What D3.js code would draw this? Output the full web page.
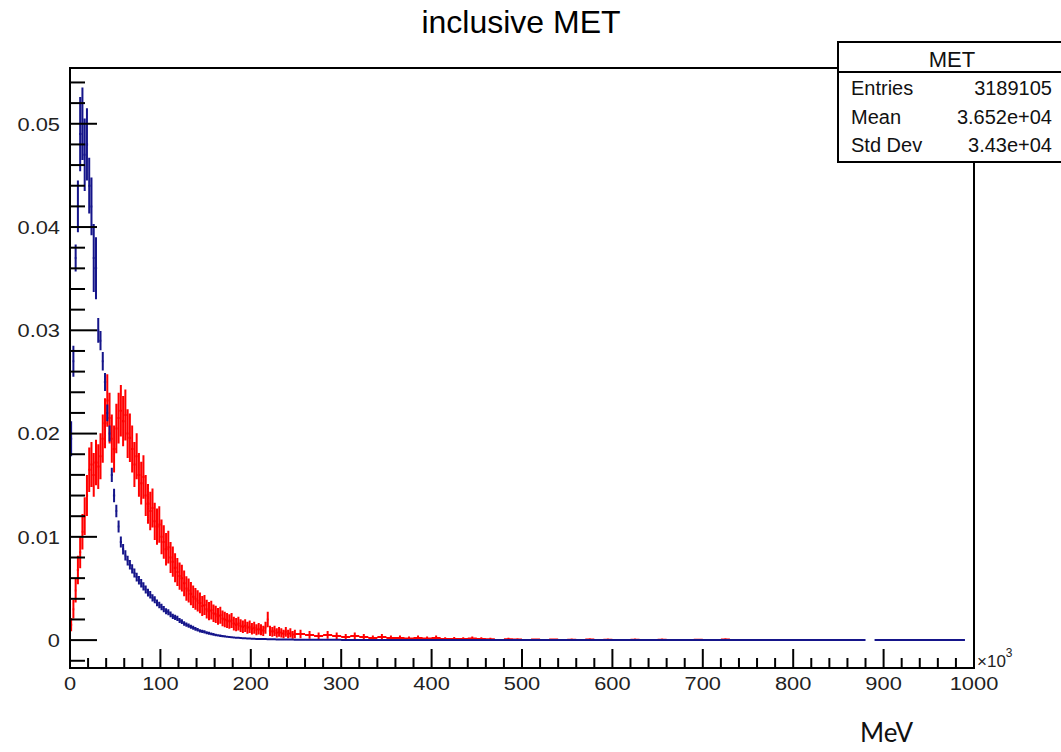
<!DOCTYPE html>
<html>
<head>
<meta charset="utf-8">
<script src="https://cdn.jsdelivr.net/npm/d3@7"></script>
<style>
  html, body { margin: 0; padding: 0; background: #fff; }
  svg { display: block; }
</style>
</head>
<body>
<svg id="chart" width="1061" height="752"></svg>
<script>
// MET histograms, normalised. Head: 2.5k bins from 0 to 250k, tail: 10k bins from 250k to 1000k
const headBin = 2.5;
const tailBin = 10;
const tailStart = 250;

const blueHead = [
  0.0195, 0.027, 0.037, 0.042, 0.049, 0.050, 0.047, 0.048, 0.044, 0.042,
  0.037, 0.036, 0.030, 0.029, 0.027, 0.025, 0.022, 0.020, 0.016, 0.014,
  0.0125, 0.011, 0.0095, 0.0088, 0.0082, 0.0077, 0.0073, 0.0069, 0.0065, 0.0061,
  0.0058, 0.0055, 0.0052, 0.0049, 0.0046, 0.0044, 0.0041, 0.0039, 0.0036, 0.0034,
  0.0032, 0.0030, 0.0028, 0.0027, 0.0025, 0.0023, 0.0022, 0.0021, 0.0019, 0.0018,
  0.0016, 0.0015, 0.0014, 0.0013, 0.0012, 0.0011, 0.0010, 0.0009, 0.00085, 0.0008,
  0.00072, 0.00066, 0.0006, 0.00055, 0.0005, 0.00046, 0.00042, 0.00039, 0.00036, 0.00033,
  0.0003, 0.00028, 0.00026, 0.00024, 0.00022, 0.0002, 0.00019, 0.00017, 0.00016, 0.00015,
  0.00014, 0.00013, 0.00012, 0.00012, 0.00011, 0.0001, 0.0001, 0.00009, 0.00009, 0.00008,
  0.00008, 0.00007, 0.00007, 0.00006, 0.00006, 0.00006, 0.00005, 0.00005, 0.00005, 0.00004
];
// errors of the first blue bins (low statistics part)
const blueHeadErr = [
  0.0017, 0.0015, 0.0013, 0.0025, 0.0036, 0.0035, 0.0035, 0.0035, 0.0027, 0.0028,
  0.0033, 0.0030, 0.0012
];
const blueTail = [
  0.00004, 0.00004, 0.00003, 0.00003, 0.00003, 0.00002, 0.00002, 0.00002, 0.00002, 0.00002,
  0.000015, 0.000015, 0.000015, 0.000015, 0.000015, 0.000015, 0.000015, 0.000015, 0.000015, 0.000015,
  0.00001, 0.00001, 0.00001, 0.00001, 0.00001, 0.00001, 0.00001, 0.00001, 0.00001, 0.00001,
  0.00001, 0.00001, 0.00001, 0.00001, 0.00001, 0.00001, 0.00001, 0.00001, 0.00001, 0.00001,
  0.00001, 0.00001, 0.00001, 0.00001, 0.00001, 0.00001, 0.00001, 0.00001, 0.00001, 0.00001,
  0.00001, 0.00001, 0.00001, 0.00001, 0.00001, 0.00001, 0.00001, 0.00001, 0.00001, 0.00001,
  0.00001, 0.00001, 0.00001, null, 0.000008, 0.000008, 0.000008, 0.000008, 0.000008, 0.000008,
  0.000008, 0.000008, 0.000008, 0.000008, null
];

const redHead = [
  0.0015, 0.0030, 0.0048, 0.0068, 0.0085, 0.0105, 0.0120, 0.0140, 0.0165, 0.0170,
  0.0160, 0.0172, 0.0168, 0.0178, 0.0195, 0.0210, 0.0232, 0.0215, 0.0195, 0.0185,
  0.0205, 0.0215, 0.0222, 0.0212, 0.0218, 0.0200, 0.0196, 0.0185, 0.0170, 0.0178,
  0.0160, 0.0152, 0.0158, 0.0140, 0.0132, 0.0125, 0.0128, 0.0115, 0.0110, 0.0112,
  0.0100, 0.0095, 0.0088, 0.0090, 0.0080, 0.0076, 0.0070, 0.0066, 0.0062, 0.0060,
  0.0055, 0.0050, 0.0048, 0.0045, 0.0042, 0.0040, 0.0038, 0.0036, 0.0033, 0.0034,
  0.0030, 0.0028, 0.0029, 0.0026, 0.0025, 0.0023, 0.0024, 0.0021, 0.0020, 0.0019,
  0.0018, 0.0019, 0.0016, 0.0015, 0.0016, 0.0014, 0.0013, 0.0014, 0.0012, 0.0013,
  0.0011, 0.0012, 0.0010, 0.0011, 0.0010, 0.0009, 0.0012, 0.0020, 0.0009, 0.0008,
  0.0009, 0.0007, 0.0008, 0.0007, 0.0006, 0.0008, 0.0006, 0.0007, 0.0005, 0.0006
];
const redTail = [
  0.0006, 0.0005, 0.0004, 0.0005, 0.0004, 0.0003, 0.0004, 0.0003, 0.0002, 0.0003,
  0.0002, 0.0002, 0.00015, 0.0002, 0.00015, 0.0002, 0.0001, 0.00012, 0.0001, 0.00015,
  0.0001, 0.00008, null, 0.00008, 0.00006, null, 0.00005, null, 0.00005, null,
  0.00004, null, 0.00006, null, 0.00004, null, null, 0.00004, null, null,
  0.00004, null, null, null, 0.00003, null, null, 0.00006, null, null,
  null, null, null, null, null, null, null, null, null, null,
  null, null, null, null, null, null, null, null, null, null,
  null, null, null, null, null
];

// Poisson-like error scale
const blueErrScale = 3e-5;
const redErrScale = 2.8e-4;

const xMajor = [0, 100, 200, 300, 400, 500, 600, 700, 800, 900, 1000];
const xLabels = ['0', '100', '200', '300', '400', '500', '600', '700', '800', '900', '1000'];
const yMajor = [0, 0.01, 0.02, 0.03, 0.04, 0.05];
const yLabels = ['0', '0.01', '0.02', '0.03', '0.04', '0.05'];

const statsTitle = 'MET';
const statsNames = ['Entries', 'Mean', 'Std Dev'];
const statsValues = ['3189105', '3.652e+04', '3.43e+04'];

const colorBlue = '#15158a';
const colorRed = '#ff0000';
const font = '"Liberation Sans", Arial, Helvetica, sans-serif';

const svg = d3.select('#chart');
const frame = { left: 70, top: 68, right: 974, bottom: 668 };

const x = d3.scaleLinear().domain([0, 1000]).range([frame.left, frame.right]);
const y = d3.scaleLinear().domain([-0.0027, 0.0554]).range([frame.bottom, frame.top]);

function makeBins(head, tail, errOf) {
  let bins = [];
  head.forEach((v, i) => {
    if (v == null) return;
    bins.push({ x0: i * headBin, x1: (i + 1) * headBin, v, e: errOf(v, i) });
  });
  tail.forEach((v, i) => {
    if (v == null) return;
    let x0 = tailStart + i * tailBin;
    bins.push({ x0, x1: x0 + tailBin, v, e: errOf(v, -1) });
  });
  return bins;
}

const blueBins = makeBins(blueHead, blueTail, (v, i) =>
  i >= 0 && i < blueHeadErr.length ? blueHeadErr[i] : Math.sqrt(v * blueErrScale)
);
const redBins = makeBins(redHead, redTail, v => Math.sqrt(v * redErrScale));

// title
svg
  .append('text')
  .attr('x', 521)
  .attr('y', 33)
  .attr('text-anchor', 'middle')
  .attr('font-family', font)
  .attr('font-size', 32)
  .attr('fill', '#000')
  .text('inclusive MET');

svg
  .append('defs')
  .append('clipPath')
  .attr('id', 'frame-clip')
  .append('rect')
  .attr('x', frame.left)
  .attr('y', frame.top)
  .attr('width', frame.right - frame.left)
  .attr('height', frame.bottom - frame.top);

// histograms drawn as ROOT "E" style error bars
const plot = svg.append('g').attr('clip-path', 'url(#frame-clip)');

function errPath(d) {
  let xc = (x(d.x0) + x(d.x1)) / 2;
  return (
    `M${x(d.x0)},${y(d.v)}H${x(d.x1)}` +
    `M${xc},${y(d.v + d.e)}V${y(d.v - d.e)}`
  );
}

[
  { bins: redBins, color: colorRed },
  { bins: blueBins, color: colorBlue }
].forEach(s => {
  plot
    .append('path')
    .attr('d', s.bins.map(errPath).join(''))
    .attr('fill', 'none')
    .attr('stroke', s.color)
    .attr('stroke-width', 2);
});

// frame
svg
  .append('rect')
  .attr('x', frame.left)
  .attr('y', frame.top)
  .attr('width', frame.right - frame.left)
  .attr('height', frame.bottom - frame.top)
  .attr('fill', 'none')
  .attr('stroke', '#000')
  .attr('stroke-width', 2);

// y axis ticks (pointing inward, left side only)
const yMinor = d3.range(-0.002, 0.0545, 0.002).map(d => +d.toFixed(3));
svg
  .append('g')
  .selectAll('line')
  .data(yMinor)
  .enter()
  .append('line')
  .attr('x1', frame.left)
  .attr('x2', d => frame.left + (yMajor.some(m => Math.abs(m - d) < 1e-6) ? 27 : 15))
  .attr('y1', d => y(d))
  .attr('y2', d => y(d))
  .attr('stroke', '#000')
  .attr('stroke-width', 2);

svg
  .append('g')
  .selectAll('g')
  .data(yMajor)
  .enter()
  .append('g')
  .attr('transform', d => `translate(60, ${y(d)}) scale(1.15, 1)`)
  .append('text')
  .attr('text-anchor', 'end')
  .attr('dy', '0.36em')
  .attr('font-family', font)
  .attr('font-size', 19)
  .attr('fill', '#222')
  .text((d, i) => yLabels[i]);

// x axis ticks (pointing up)
const xMinor = d3.range(0, 1001, 20);
svg
  .append('g')
  .selectAll('line')
  .data(xMinor)
  .enter()
  .append('line')
  .attr('x1', d => x(d))
  .attr('x2', d => x(d))
  .attr('y1', frame.bottom)
  .attr('y2', d => frame.bottom - (d % 100 === 0 ? 19 : 10))
  .attr('stroke', '#000')
  .attr('stroke-width', 2);

svg
  .append('g')
  .selectAll('g')
  .data(xMajor)
  .enter()
  .append('g')
  .attr('transform', d => `translate(${x(d)}, 690) scale(1.15, 1)`)
  .append('text')
  .attr('text-anchor', 'middle')
  .attr('font-family', font)
  .attr('font-size', 19)
  .attr('fill', '#222')
  .text((d, i) => xLabels[i]);

// axis exponent
const expo = svg
  .append('text')
  .attr('x', 977)
  .attr('y', 667)
  .attr('font-family', font)
  .attr('font-size', 17)
  .attr('fill', '#222');
expo.append('tspan').text('\u00d710');
expo
  .append('tspan')
  .attr('dy', -10)
  .attr('font-size', 12)
  .text('3');

// unit label
svg
  .append('text')
  .attr('x', 860)
  .attr('y', 742)
  .attr('font-family', 'Lato, "Open Sans", sans-serif')
  .attr('font-size', 26)
  .attr('fill', '#111')
  .text('MeV');

// stats box
const stats = svg.append('g');
stats
  .append('rect')
  .attr('x', 838)
  .attr('y', 42)
  .attr('width', 240)
  .attr('height', 120)
  .attr('fill', '#fff')
  .attr('stroke', '#000')
  .attr('stroke-width', 2);
stats
  .append('line')
  .attr('x1', 838)
  .attr('x2', 1061)
  .attr('y1', 72)
  .attr('y2', 72)
  .attr('stroke', '#000')
  .attr('stroke-width', 2);
stats
  .append('text')
  .attr('x', 952)
  .attr('y', 67)
  .attr('text-anchor', 'middle')
  .attr('font-family', font)
  .attr('font-size', 22)
  .attr('fill', '#111')
  .text(statsTitle);

const rowY = [95, 124, 152];
statsNames.forEach((name, i) => {
  stats
    .append('text')
    .attr('x', 851)
    .attr('y', rowY[i])
    .attr('font-family', font)
    .attr('font-size', 20)
    .attr('fill', '#111')
    .text(name);
  stats
    .append('text')
    .attr('x', 1052)
    .attr('y', rowY[i])
    .attr('text-anchor', 'end')
    .attr('font-family', font)
    .attr('font-size', 20)
    .attr('fill', '#111')
    .text(statsValues[i]);
});
</script>
</body>
</html>
